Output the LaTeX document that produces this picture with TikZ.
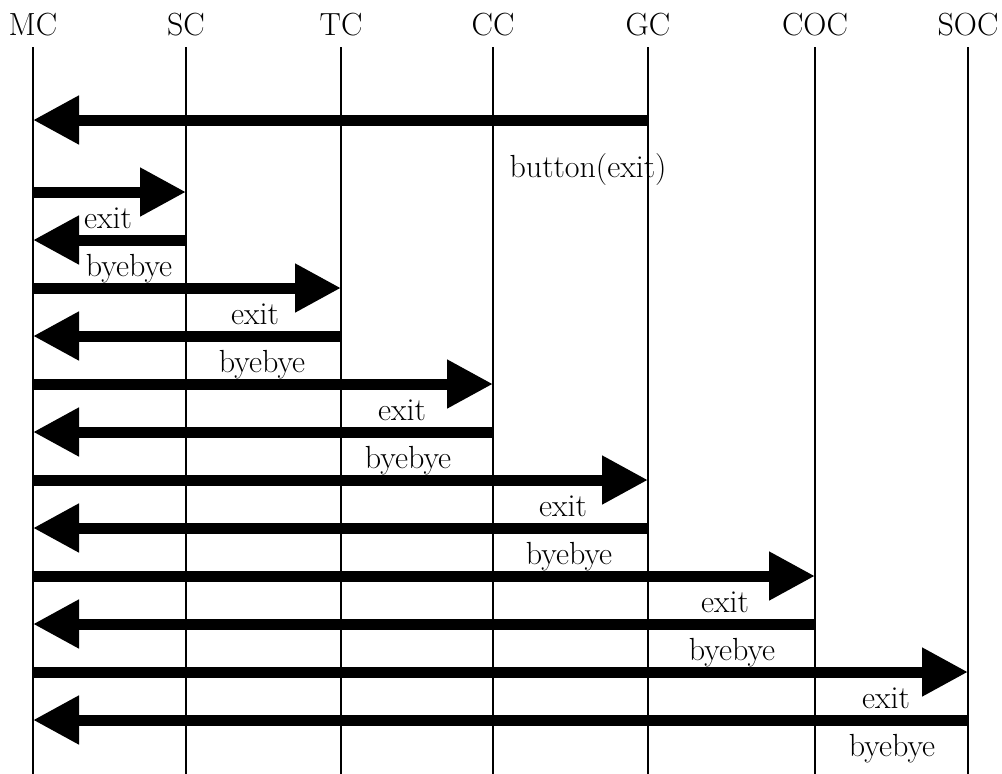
\documentclass[tikz,border=0pt]{standalone}
\usetikzlibrary{arrows.meta}
\begin{document}
\begin{tikzpicture}[x=1pt,y=-1pt,
  msg/.style={line width=11pt,-{Triangle[length=46pt,width=46pt]}},
  lbl/.style={font=\fontsize{32}{38}\selectfont,anchor=base,inner sep=0pt}]
\useasboundingbox (0,0) rectangle (1002,774);

% lifelines
\foreach \name/\x in {MC/33,SC/186,TC/341,CC/493,GC/648,COC/815,SOC/968} {%
	\node[lbl] (\name) at (\x,35) {\name};
	\coordinate (\name-top) at (\x,47);
	\coordinate (\name-bot) at (\x,774);
	\draw[line width=1.6pt] (\name-top) -- (\name-bot);
}

\draw[msg] (GC |- 0,120) -- (MC |- 0,120);
\node[lbl] (button) at (588,177) {button(exit)};

% byebye / exit pairs
\foreach \t/\yf/\xe/\xb in {SC/192/108/129,TC/288/255/262,CC/384/402/408,GC/480/563/569,COC/576/725/732,SOC/672/886/892} {%
	\pgfmathsetmacro\yr{\yf+48}
	\draw[msg] (MC |- 0,\yf) -- (\t |- 0,\yf);
	\draw[msg] (\t |- 0,\yr) -- (MC |- 0,\yr);
	\node[lbl] (exit-\t) at (\xe,\yr-12) {exit};
	\node[lbl] (bye-\t) at (\xb,\yr+36) {byebye};
}

\end{tikzpicture}
\end{document}
